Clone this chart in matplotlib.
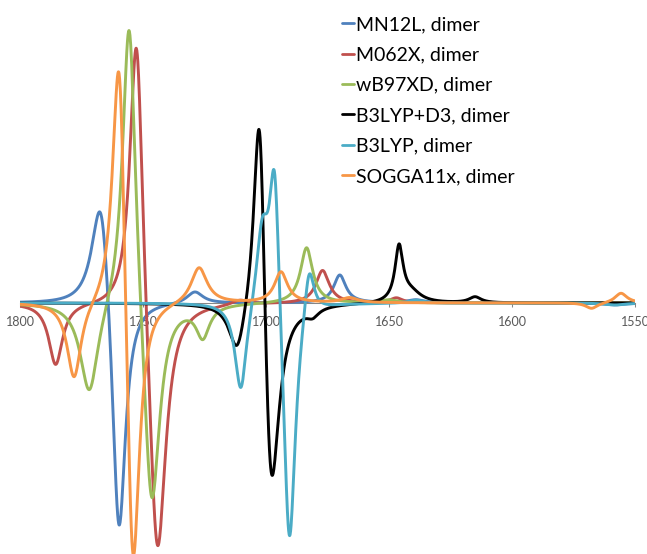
import numpy as np
import matplotlib.pyplot as plt

plt.rcParams['font.family'] = ['Lato', 'DejaVu Sans']

# bands per functional: centre (cm-1), peak intensity, half width (cm-1)
mn12l_pos = [1767.0, 1759.8, 1728.9, 1670.0, 1639.0, 1558.0]
mn12l_int = [1.33, -2.60, 0.12, 0.28, 0.03, -0.02]
mn12l_hw = [4.5, 3.3, 4.0, 3.0, 4.0, 5.0]

m062x_pos = [1785.5, 1752.6, 1744.2, 1710.6, 1677.0, 1647.0]
m062x_int = [-0.62, 3.12, -2.84, 0.05, 0.33, 0.05]
m062x_hw = [3.4, 3.3, 4.2, 4.0, 3.3, 3.0]

wb97xd_pos = [1771.8, 1755.6, 1746.5, 1725.7, 1683.5, 1650.0]
wb97xd_int = [-0.94, 3.17, -2.28, -0.32, 0.56, 0.03]
wb97xd_hw = [4.5, 3.3, 4.0, 3.3, 3.0, 4.0]

b3lypd3_pos = [1711.7, 1702.5, 1698.2, 1681.0, 1645.9, 1641.0, 1615.0]
b3lypd3_int = [-0.50, 2.95, -2.55, -0.08, 0.55, 0.10, 0.06]
b3lypd3_hw = [4.0, 3.0, 4.0, 3.0, 2.0, 5.0, 3.0]

b3lyp_pos = [1710.2, 1701.5, 1696.5, 1690.5, 1682.5, 1639.0, 1558.0]
b3lyp_int = [-0.93, 0.80, 1.65, -2.66, 0.55, 0.03, -0.02]
b3lyp_hw = [3.0, 3.0, 2.5, 3.0, 2.5, 4.0, 5.0]

sogga_pos = [1778.0, 1759.6, 1754.2, 1727.2, 1693.9, 1666.0, 1567.6, 1555.7]
sogga_int = [-0.78, 3.21, -3.36, 0.37, 0.31, 0.05, -0.06, 0.10]
sogga_hw = [3.5, 3.3, 3.3, 4.0, 3.2, 4.0, 3.0, 3.0]

labels = ['MN12L, dimer', 'M062X, dimer', 'wB97XD, dimer',
          'B3LYP+D3, dimer', 'B3LYP, dimer', 'SOGGA11x, dimer']
colors = ['#4F81BD', '#C0504D', '#9BBB59', '#000000', '#4BACC6', '#F79646']
bands = [(mn12l_pos, mn12l_int, mn12l_hw),
         (m062x_pos, m062x_int, m062x_hw),
         (wb97xd_pos, wb97xd_int, wb97xd_hw),
         (b3lypd3_pos, b3lypd3_int, b3lypd3_hw),
         (b3lyp_pos, b3lyp_int, b3lyp_hw),
         (sogga_pos, sogga_int, sogga_hw)]


def lorentz_sum(x, pos, inten, hw):
    y = np.zeros_like(x)
    for c, a, w in zip(pos, inten, hw):
        y += a / (1.0 + ((x - c) / w) ** 2)
    return y


wn = np.linspace(1550, 1800, 2501)

fig = plt.figure(figsize=(6.47, 5.54), dpi=100)
ax = fig.add_axes([20 / 647, 0, 615 / 647, 1])

for (pos, inten, hw), lab, col in zip(bands, labels, colors):
    ax.plot(wn, lorentz_sum(wn, pos, inten, hw), color=col, lw=2.1,
            label=lab, solid_capstyle='round')

ax.set_xlim(1800, 1550)
ax.set_ylim(-2.52, 3.04)
ax.set_xticks([1800, 1750, 1700, 1650, 1600, 1550])
ax.set_yticks([])

for s in ['top', 'left', 'right']:
    ax.spines[s].set_visible(False)
ax.spines['bottom'].set_position(('data', 0))
ax.spines['bottom'].set_color('#868686')
ax.spines['bottom'].set_linewidth(0.75)
ax.spines['bottom'].set_zorder(1)
ax.tick_params(axis='x', direction='out', length=3, width=0.75,
               color='#868686', labelcolor='#595959', labelsize=9, pad=6.5)
ax.patch.set_visible(False)

leg = ax.legend(loc='upper left', bbox_to_anchor=(342 / 647, 1 - 16 / 554),
                bbox_transform=fig.transFigure, frameon=False, fontsize=14,
                handlelength=0.62, handletextpad=0.08, labelspacing=0.69,
                borderpad=0, borderaxespad=0)
for line in leg.get_lines():
    line.set_linewidth(2.0)

fig.savefig('out.png', dpi=100)
